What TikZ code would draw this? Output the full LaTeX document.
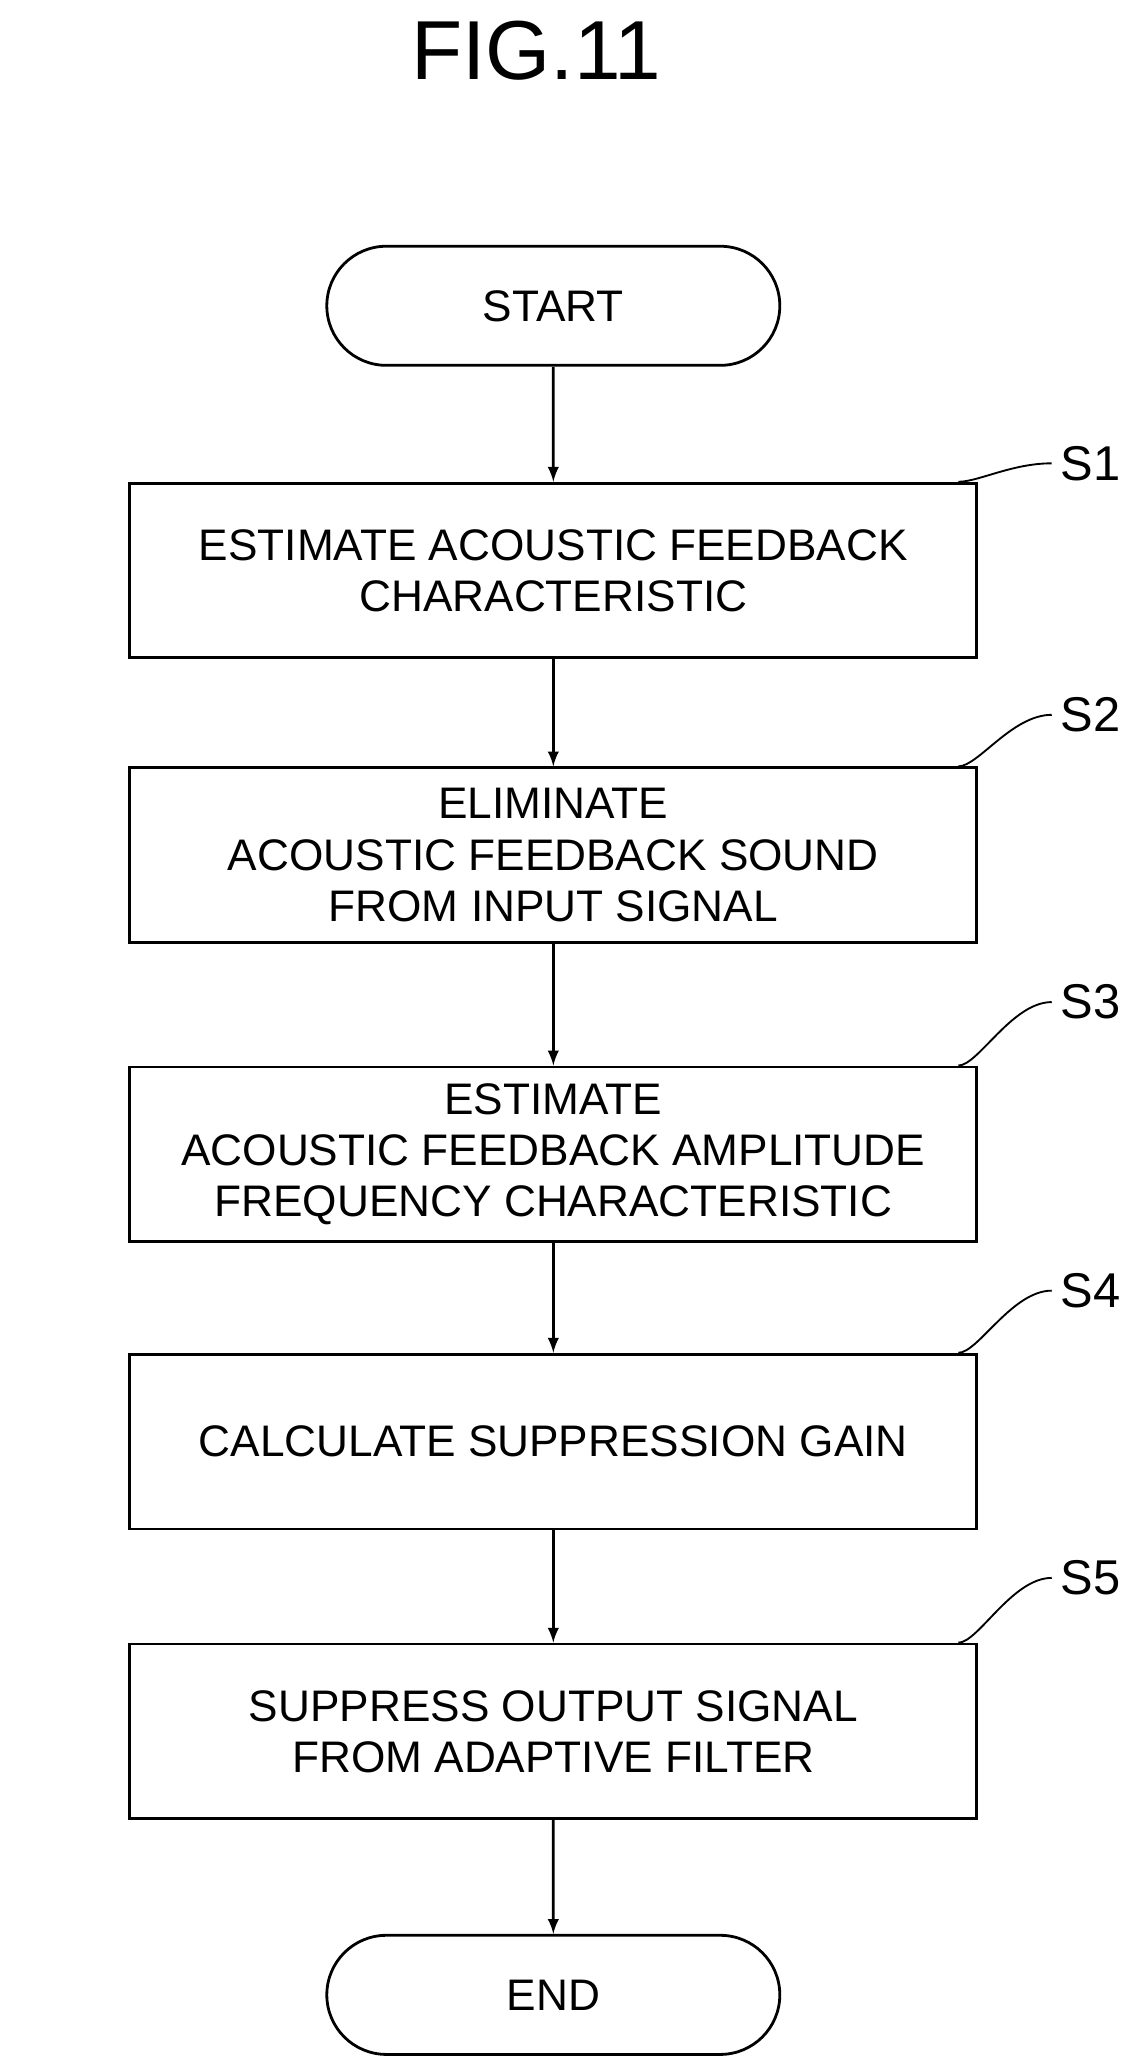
\documentclass[tikz,border=0pt]{standalone}
\usepackage{fontspec}
\setmainfont{Liberation Sans}
\usetikzlibrary{shapes.misc}
\begin{document}
\begin{tikzpicture}[x=0.02cm,y=-0.02cm,line width=1.2pt,
  every node/.style={font=\fontsize{19}{22}\selectfont},
  procbox/.style={shape=rectangle,draw,minimum width=12.8cm,minimum height=2.64cm,align=center},
  term/.style={shape=rounded rectangle,draw,minimum width=7.08cm,minimum height=1.8cm}]
\useasboundingbox (0,0) rectangle (860,1560);
\path (405,38) node (title) [font=\fontsize{36}{40}\selectfont] {FIG.11};
\path (418,231) node (start) [term] {START};
\path (418,431) node (s1) [procbox] {ESTIMATE ACOUSTIC FEEDBACK\\CHARACTERISTIC};
\path (418,646) node (s2) [procbox] {ELIMINATE\\ACOUSTIC FEEDBACK SOUND\\FROM INPUT SIGNAL};
\path (418,872) node (s3) [procbox] {ESTIMATE\\ACOUSTIC FEEDBACK AMPLITUDE\\FREQUENCY CHARACTERISTIC};
\path (418,1089) node (s4) [procbox] {CALCULATE SUPPRESSION GAIN};
\path (418,1308) node (s5) [procbox] {SUPPRESS OUTPUT SIGNAL\\FROM ADAPTIVE FILTER};
\path (418,1507) node (end) [term] {END};
% step labels
\foreach \s/\t/\y in {s1/S1/350,s2/S2/540,s3/S3/757,s4/S4/975,s5/S5/1192}{
  \path (824,\y) node (\s lab) [font=\fontsize{21}{24}\selectfont] {\t};
  \draw [line width=0.8pt] ([xshift=-0.3cm]\s.north east) .. controls +(0.3cm,0) and +(-0.6cm,0) .. (\s lab.west);
}
\draw [-latex] (start) to (s1);
\draw [-latex] (s1) to (s2);
\draw [-latex] (s2) to (s3);
\draw [-latex] (s3) to (s4);
\draw [-latex] (s4) to (s5);
\draw [-latex] (s5) to (end);
\end{tikzpicture}
\end{document}
